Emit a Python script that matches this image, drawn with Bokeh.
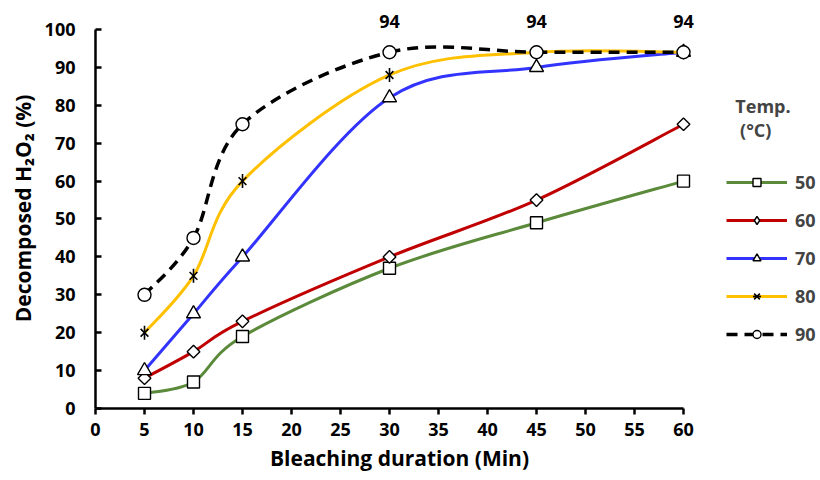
from bokeh.plotting import figure
from bokeh.models import Legend, LegendItem, LabelSet, Range1d, FixedTicker, ColumnDataSource
from bokeh.core.properties import value
from bokeh.embed import file_html
from bokeh.resources import INLINE
import math

# ---- data ----
durations = [5, 10, 15, 30, 45, 60]
temps = ["50", "60", "70", "80", "90"]
s50 = [4, 7, 19, 37, 49, 60]
s60 = [8, 15, 23, 40, 55, 75]
s70 = [10, 25, 40, 82, 90, 94]
s80 = [20, 35, 60, 88, 94, 94]
s90 = [30, 45, 75, 94, 94, 94]
label_x = [30, 45, 60]
label_vals = [94, 94, 94]
x_ticks = list(range(0, 65, 5))
y_ticks = list(range(0, 110, 10))

FONT = "Open Sans"

def bezier_source(xs, ys):
    n = len(xs)
    d = dict(x0=[], y0=[], x1=[], y1=[], cx0=[], cy0=[], cx1=[], cy1=[])
    for i in range(n - 1):
        a = max(i - 1, 0)
        b = min(i + 2, n - 1)
        d["x0"].append(xs[i]); d["y0"].append(ys[i])
        d["x1"].append(xs[i + 1]); d["y1"].append(ys[i + 1])
        d["cx0"].append(xs[i] + (xs[i + 1] - xs[a]) / 6)
        d["cy0"].append(ys[i] + (ys[i + 1] - ys[a]) / 6)
        d["cx1"].append(xs[i + 1] - (xs[b] - xs[i]) / 6)
        d["cy1"].append(ys[i + 1] - (ys[b] - ys[i]) / 6)
    return ColumnDataSource(d)

p = figure(frame_width=608, frame_height=400, output_backend="svg", toolbar_location=None,
           x_range=Range1d(0, 62.04), y_range=Range1d(0, 105.54),
           min_border_left=95, min_border_top=8, min_border_right=101, min_border_bottom=72)
p.outline_line_color = None
p.xgrid.grid_line_color = None
p.ygrid.grid_line_color = None
p.background_fill_color = "white"
p.border_fill_color = "white"

for ax in (p.xaxis[0], p.yaxis[0]):
    ax.axis_line_width = 2.5
    ax.axis_line_color = "black"
    ax.major_tick_line_width = 2.5
    ax.major_tick_line_color = "black"
    ax.minor_tick_line_color = None
    ax.major_label_text_font = FONT
    ax.major_label_text_font_style = "bold"
    ax.major_label_text_font_size = "18px"
    ax.major_label_text_color = "black"
    ax.axis_label_text_font = FONT
    ax.axis_label_text_font_style = "bold"
    ax.axis_label_text_font_size = "21px"
    ax.axis_label_text_color = "black"

p.xaxis[0].ticker = FixedTicker(ticks=x_ticks)
p.yaxis[0].ticker = FixedTicker(ticks=y_ticks)
p.xaxis[0].bounds = (0, 60)
p.yaxis[0].bounds = (0, 100)
p.xaxis[0].major_tick_out = 6
p.xaxis[0].major_tick_in = 0
p.yaxis[0].major_tick_out = 0
p.yaxis[0].major_tick_in = 6
p.xaxis[0].major_label_standoff = 8
p.yaxis[0].major_label_standoff = 20
p.xaxis[0].axis_label = "Bleaching duration (Min)"
p.yaxis[0].axis_label = "Decomposed H\u2082O\u2082 (%)"
p.xaxis[0].axis_label_standoff = 5
p.yaxis[0].axis_label_standoff = 5

series = [s50, s60, s70, s80, s90]
colors = ["#5A8A3A", "#C00000", "#3333FF", "#FFC000", "black"]
items = []
for name, ys, col in zip(temps, series, colors):
    src = bezier_source(durations, ys)
    kw = dict(line_color=col, line_width=3.5 if name == "90" else 3)
    if name == "90":
        kw["line_dash"] = "11 7"
    bz = p.bezier(x0="x0", y0="y0", x1="x1", y1="y1", cx0="cx0", cy0="cy0", cx1="cx1", cy1="cy1",
                  source=src, **kw)
    rends = [bz]
    mk = dict(fill_color="white", line_color="black", line_width=1.4)
    if name == "50":
        rends.append(p.scatter(durations, ys, marker="square", size=12, **mk))
    elif name == "60":
        p.scatter(durations, ys, marker="square", size=9, angle=math.pi / 4, **mk)
        # hidden twin renderer used only for the legend symbol (diamond)
        proxy = p.scatter(durations, ys, marker="diamond", size=13, **mk)
        proxy.visible = False
        rends.append(proxy)
    elif name == "70":
        rends.append(p.scatter(durations, ys, marker="triangle", size=14, **mk))
    elif name == "80":
        rends.append(p.scatter(durations, ys, marker="x", size=11, line_color="black", line_width=1.6))
        rends.append(p.scatter(durations, ys, marker="dash", size=14, angle=math.pi / 2,
                               line_color="black", line_width=1.6))
    else:
        rends.append(p.scatter(durations, ys, marker="circle", size=13, **mk))
    items.append(LegendItem(label=name, renderers=rends))

lab_src = ColumnDataSource(dict(x=label_x, y=label_vals, t=[str(v) for v in label_vals]))
labels = LabelSet(x="x", y="y", text="t", source=lab_src, y_offset=31,
                  text_align="center", text_baseline="middle",
                  text_font=value(FONT), text_font_style="bold", text_font_size="18px",
                  text_color="black")
p.add_layout(labels)

legend = Legend(items=items, location=(23, 62), title="\u00a0\u00a0Temp.\n\u00a0\u00a0\u00a0(°C)",
                title_text_font=FONT, title_text_font_style="bold", title_text_font_size="18px",
                title_text_line_height=1.8,
                label_text_font=FONT, label_text_font_style="bold", label_text_font_size="18px",
                glyph_width=61, glyph_height=20, spacing=14, label_standoff=8,
                border_line_color=None, background_fill_alpha=0, margin=0, padding=0,
                title_standoff=28, click_policy="none")
p.add_layout(legend, "right")

open("out.html", "w").write(file_html(p, INLINE))
